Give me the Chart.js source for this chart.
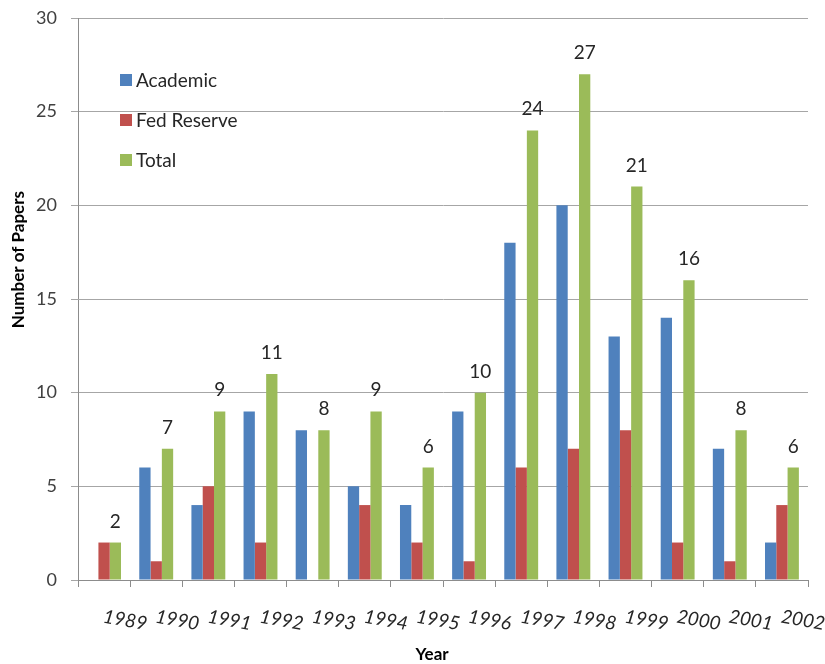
<!DOCTYPE html>
<html>
<head>
<meta charset="utf-8">
<script src="https://cdn.jsdelivr.net/npm/chart.js@4.4.1/dist/chart.umd.min.js"></script>
<style>
  html, body { margin: 0; padding: 0; background: #ffffff; }
  #wrap { width: 825px; height: 664px; position: relative; }
</style>
</head>
<body>
<div id="wrap"><canvas id="chart"></canvas></div>
<script>
// Papers per year, by author affiliation
const years = ['1989', '1990', '1991', '1992', '1993', '1994', '1995',
               '1996', '1997', '1998', '1999', '2000', '2001', '2002'];
const academic   = [0, 6, 4, 9, 8, 5, 4, 9, 18, 20, 13, 14, 7, 2];
const fedReserve = [2, 1, 5, 2, 0, 4, 2, 1, 6, 7, 8, 2, 1, 4];
const total      = [2, 7, 9, 11, 8, 9, 6, 10, 24, 27, 21, 16, 8, 6];
const yTicks     = [0, 5, 10, 15, 20, 25, 30];

const FONT = 'Lato, "Open Sans", "DejaVu Sans", sans-serif';
const TEXT = '#262626';

// Draws the in-plot legend, total labels, slanted year labels and axis titles
const decorations = {
  id: 'decorations',
  afterDatasetsDraw(chart) {
    const { ctx, chartArea, scales } = chart;
    const x = scales.x;
    ctx.save();

    // value labels above the total bars
    const meta = chart.getDatasetMeta(2);
    ctx.font = '19px ' + FONT;
    ctx.fillStyle = TEXT;
    ctx.textAlign = 'center';
    ctx.textBaseline = 'alphabetic';
    meta.data.forEach((bar, i) => {
      ctx.fillText(String(total[i]), bar.x, bar.y - 15);
    });

    // legend inside the plot area
    ctx.font = '19px ' + FONT;
    ctx.textAlign = 'left';
    ctx.textBaseline = 'middle';
    chart.data.datasets.forEach((ds, i) => {
      const ly = chartArea.top + 62 + i * 40;
      const lx = chartArea.left + 42;
      ctx.fillStyle = ds.backgroundColor;
      ctx.fillRect(lx, ly - 6, 12, 12);
      ctx.fillStyle = TEXT;
      ctx.fillText(ds.label, lx + 16, ly + 1);
    });

    // slanted italic year labels under each category
    ctx.font = 'italic 19px ' + FONT;
    ctx.fillStyle = TEXT;
    ctx.textAlign = 'left';
    ctx.textBaseline = 'top';
    years.forEach((yr, i) => {
      const px = x.getPixelForValue(i);
      ctx.save();
      ctx.translate(px + 1, chartArea.bottom + 27);
      ctx.rotate(10 * Math.PI / 180);
      ctx.fillText(yr, 0, 0);
      ctx.restore();
    });

    // axis titles
    ctx.font = 'bold 17px ' + FONT;
    ctx.fillStyle = '#000000';
    ctx.textAlign = 'center';
    ctx.textBaseline = 'middle';
    ctx.fillText('Year', chartArea.left + (chartArea.right - chartArea.left) * 0.485, chartArea.bottom + 75);
    ctx.save();
    ctx.translate(19, chartArea.top + (chartArea.bottom - chartArea.top) * 0.43);
    ctx.rotate(-Math.PI / 2);
    ctx.fillText('Number of Papers', 0, 0);
    ctx.restore();

    ctx.restore();
  }
};

new Chart(document.getElementById('chart'), {
  type: 'bar',
  data: {
    labels: years,
    datasets: [
      { label: 'Academic',    data: academic,   backgroundColor: '#4F81BD' },
      { label: 'Fed Reserve', data: fedReserve, backgroundColor: '#C0504D' },
      { label: 'Total',       data: total,      backgroundColor: '#9BBB59' }
    ]
  },
  options: {
    responsive: true,
    maintainAspectRatio: false,
    animation: false,
    layout: { padding: { top: 18, right: 17, left: 0, bottom: 0 } },
    datasets: { bar: { barPercentage: 1.0, categoryPercentage: 0.65 } },
    plugins: {
      legend: { display: false },
      tooltip: { enabled: false }
    },
    scales: {
      x: {
        offset: true,
        grid: {
          offset: true,
          drawOnChartArea: false,
          drawTicks: true,
          tickLength: 7,
          color: '#8c8c8c'
        },
        border: { color: '#8c8c8c' },
        ticks: {
          autoSkip: false,
          maxRotation: 0,
          minRotation: 0,
          color: 'rgba(0,0,0,0)',
          font: { size: 12, family: FONT }
        },
        afterFit(scale) {
          scale.height = 84;
          scale.paddingLeft = 0;
          scale.paddingRight = 0;
        }
      },
      y: {
        min: 0,
        max: 30,
        afterBuildTicks(scale) { scale.ticks = yTicks.map(v => ({ value: v })); },
        grid: { color: '#a6a6a6', tickLength: 7, drawTicks: true },
        border: { color: '#8c8c8c' },
        ticks: {
          padding: 14,
          color: '#404040',
          font: { size: 18, family: FONT }
        },
        afterFit(scale) {
          scale.width = 78;
          scale.paddingTop = 0;
          scale.paddingBottom = 0;
        }
      }
    }
  },
  plugins: [decorations]
});
</script>
</body>
</html>
